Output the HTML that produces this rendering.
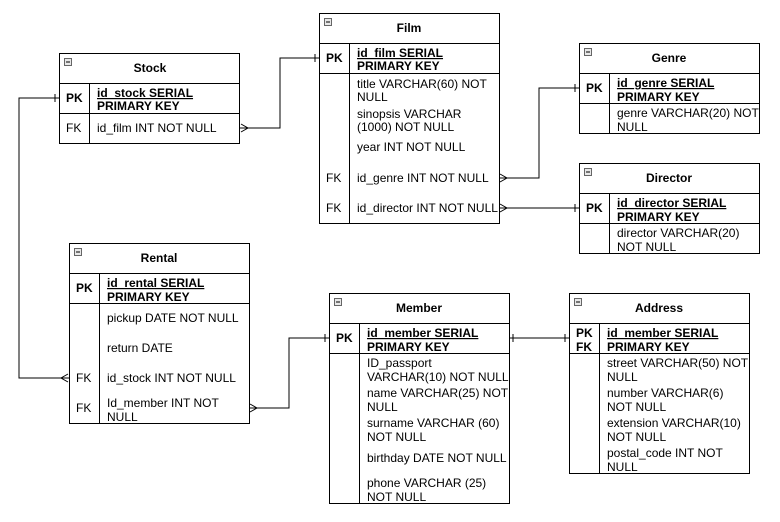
<!DOCTYPE html>
<html><head><meta charset="utf-8"><style>
html,body{margin:0;padding:0;background:#fff;}
svg{display:block;}
text{font-family:"Liberation Sans",Arial,sans-serif;font-size:12px;fill:#000;}
.b{font-weight:bold;}
.h{font-weight:bold;font-size:12px;}
</style></head><body>
<svg width="780" height="522" viewBox="0 0 780 522" xmlns="http://www.w3.org/2000/svg">
<g fill="none" stroke="#000" stroke-width="1">
<!-- connectors -->
<polyline points="240,128 280,128 280,58 319,58"/>
<line x1="315" y1="54" x2="315" y2="62"/>
<polyline points="241,124 248,128 241,132"/>
<polyline points="499,178 539,178 539,88 579,88"/>
<line x1="575" y1="84" x2="575" y2="92"/>
<polyline points="500,174 507,178 500,182"/>
<line x1="499" y1="208" x2="579" y2="208"/>
<line x1="575" y1="204" x2="575" y2="212"/>
<polyline points="500,204 507,208 500,212"/>
<polyline points="69,378 19,378 19,98 59,98"/>
<line x1="55" y1="94" x2="55" y2="102"/>
<polyline points="68,374 61,378 68,382"/>
<polyline points="249,408 289,408 289,338 329,338"/>
<line x1="325" y1="334" x2="325" y2="342"/>
<polyline points="250,404 257,408 250,412"/>
<line x1="509" y1="338" x2="569" y2="338"/>
<line x1="513" y1="334" x2="513" y2="342"/>
<line x1="565" y1="334" x2="565" y2="342"/>
</g>
<g fill="#fff" stroke="#000" stroke-width="1">
<!-- Stock -->
<rect x="59.5" y="53.5" width="180" height="90"/>
<line x1="59.5" y1="83.5" x2="239.5" y2="83.5"/><line x1="59.5" y1="113.5" x2="239.5" y2="113.5"/>
<line x1="89.5" y1="83.5" x2="89.5" y2="143.5"/>
<!-- Film -->
<rect x="319.5" y="13.5" width="180" height="210"/>
<line x1="319.5" y1="43.5" x2="499.5" y2="43.5"/><line x1="319.5" y1="73.5" x2="499.5" y2="73.5"/>
<line x1="349.5" y1="43.5" x2="349.5" y2="223.5"/>
<!-- Genre -->
<rect x="579.5" y="43.5" width="180" height="90"/>
<line x1="579.5" y1="73.5" x2="759.5" y2="73.5"/><line x1="579.5" y1="103.5" x2="759.5" y2="103.5"/>
<line x1="609.5" y1="73.5" x2="609.5" y2="133.5"/>
<!-- Director -->
<rect x="579.5" y="163.5" width="180" height="90"/>
<line x1="579.5" y1="193.5" x2="759.5" y2="193.5"/><line x1="579.5" y1="223.5" x2="759.5" y2="223.5"/>
<line x1="609.5" y1="193.5" x2="609.5" y2="253.5"/>
<!-- Rental -->
<rect x="69.5" y="243.5" width="180" height="180"/>
<line x1="69.5" y1="273.5" x2="249.5" y2="273.5"/><line x1="69.5" y1="303.5" x2="249.5" y2="303.5"/>
<line x1="99.5" y1="273.5" x2="99.5" y2="423.5"/>
<!-- Member -->
<rect x="329.5" y="293.5" width="180" height="210"/>
<line x1="329.5" y1="323.5" x2="509.5" y2="323.5"/><line x1="329.5" y1="353.5" x2="509.5" y2="353.5"/>
<line x1="359.5" y1="323.5" x2="359.5" y2="503.5"/>
<!-- Address -->
<rect x="569.5" y="293.5" width="180" height="180"/>
<line x1="569.5" y1="323.5" x2="749.5" y2="323.5"/><line x1="569.5" y1="353.5" x2="749.5" y2="353.5"/>
<line x1="599.5" y1="323.5" x2="599.5" y2="473.5"/>
</g>
<!-- collapse icons -->
<g fill="#e8e8e8" stroke="#666" stroke-width="1">
<rect x="64.5" y="58.5" width="7" height="7"/><rect x="324.5" y="18.5" width="7" height="7"/>
<rect x="584.5" y="48.5" width="7" height="7"/><rect x="584.5" y="168.5" width="7" height="7"/>
<rect x="74.5" y="248.5" width="7" height="7"/><rect x="334.5" y="298.5" width="7" height="7"/>
<rect x="574.5" y="298.5" width="7" height="7"/>
</g>
<g stroke="#000" stroke-width="1">
<line x1="66" y1="62" x2="70" y2="62"/><line x1="326" y1="22" x2="330" y2="22"/>
<line x1="586" y1="52" x2="590" y2="52"/><line x1="586" y1="172" x2="590" y2="172"/>
<line x1="76" y1="252" x2="80" y2="252"/><line x1="336" y1="302" x2="340" y2="302"/>
<line x1="576" y1="302" x2="580" y2="302"/>
</g>
<!-- Stock text -->
<text class="h" x="150" y="72" text-anchor="middle">Stock</text>
<text class="b" x="66" y="102">PK</text>
<text class="b" x="97" y="97" text-decoration="underline">id_stock SERIAL</text>
<text class="b" x="97" y="110">PRIMARY KEY</text>
<text x="66" y="132">FK</text><text x="97" y="132">id_film INT NOT NULL</text>
<!-- Film -->
<text class="h" x="409" y="32" text-anchor="middle">Film</text>
<text class="b" x="326" y="62">PK</text>
<text class="b" x="357" y="57" text-decoration="underline">id_film SERIAL</text>
<text class="b" x="357" y="70">PRIMARY KEY</text>
<text x="357" y="88">title VARCHAR(60) NOT</text><text x="357" y="101">NULL</text>
<text x="357" y="118">sinopsis VARCHAR</text><text x="357" y="131">(1000) NOT NULL</text>
<text x="357" y="151">year INT NOT NULL</text>
<text x="326" y="182">FK</text><text x="357" y="182">id_genre INT NOT NULL</text>
<text x="326" y="212">FK</text><text x="357" y="212">id_director INT NOT NULL</text>
<!-- Genre -->
<text class="h" x="669" y="62" text-anchor="middle">Genre</text>
<text class="b" x="586" y="92">PK</text>
<text class="b" x="617" y="87" text-decoration="underline">id_genre SERIAL</text>
<text class="b" x="617" y="101">PRIMARY KEY</text>
<text x="617" y="117">genre VARCHAR(20) NOT</text><text x="617" y="131">NULL</text>
<!-- Director -->
<text class="h" x="669" y="182" text-anchor="middle">Director</text>
<text class="b" x="586" y="212">PK</text>
<text class="b" x="617" y="207" text-decoration="underline">id_director SERIAL</text>
<text class="b" x="617" y="221">PRIMARY KEY</text>
<text x="617" y="237">director VARCHAR(20)</text><text x="617" y="251">NOT NULL</text>
<!-- Rental -->
<text class="h" x="159" y="262" text-anchor="middle">Rental</text>
<text class="b" x="76" y="292">PK</text>
<text class="b" x="107" y="287" text-decoration="underline">id_rental SERIAL</text>
<text class="b" x="107" y="301">PRIMARY KEY</text>
<text x="107" y="322">pickup DATE NOT NULL</text>
<text x="107" y="352">return DATE</text>
<text x="76" y="382">FK</text><text x="107" y="382">id_stock INT NOT NULL</text>
<text x="76" y="412">FK</text><text x="107" y="407">Id_member INT NOT</text><text x="107" y="421">NULL</text>
<!-- Member -->
<text class="h" x="419" y="312" text-anchor="middle">Member</text>
<text class="b" x="336" y="342">PK</text>
<text class="b" x="367" y="337" text-decoration="underline">id_member SERIAL</text>
<text class="b" x="367" y="351">PRIMARY KEY</text>
<text x="367" y="367">ID_passport</text><text x="367" y="381">VARCHAR(10) NOT NULL</text>
<text x="367" y="397">name VARCHAR(25) NOT</text><text x="367" y="411">NULL</text>
<text x="367" y="427">surname VARCHAR (60)</text><text x="367" y="441">NOT NULL</text>
<text x="367" y="462">birthday DATE NOT NULL</text>
<text x="367" y="487">phone VARCHAR (25)</text><text x="367" y="501">NOT NULL</text>
<!-- Address -->
<text class="h" x="659" y="312" text-anchor="middle">Address</text>
<text class="b" x="576" y="337">PK</text><text class="b" x="576" y="351">FK</text>
<text class="b" x="607" y="337" text-decoration="underline">id_member SERIAL</text>
<text class="b" x="607" y="351">PRIMARY KEY</text>
<text x="607" y="367">street VARCHAR(50) NOT</text><text x="607" y="381">NULL</text>
<text x="607" y="397">number VARCHAR(6)</text><text x="607" y="411">NOT NULL</text>
<text x="607" y="427">extension VARCHAR(10)</text><text x="607" y="441">NOT NULL</text>
<text x="607" y="457">postal_code INT NOT</text><text x="607" y="471">NULL</text>
</svg>
</body></html>
